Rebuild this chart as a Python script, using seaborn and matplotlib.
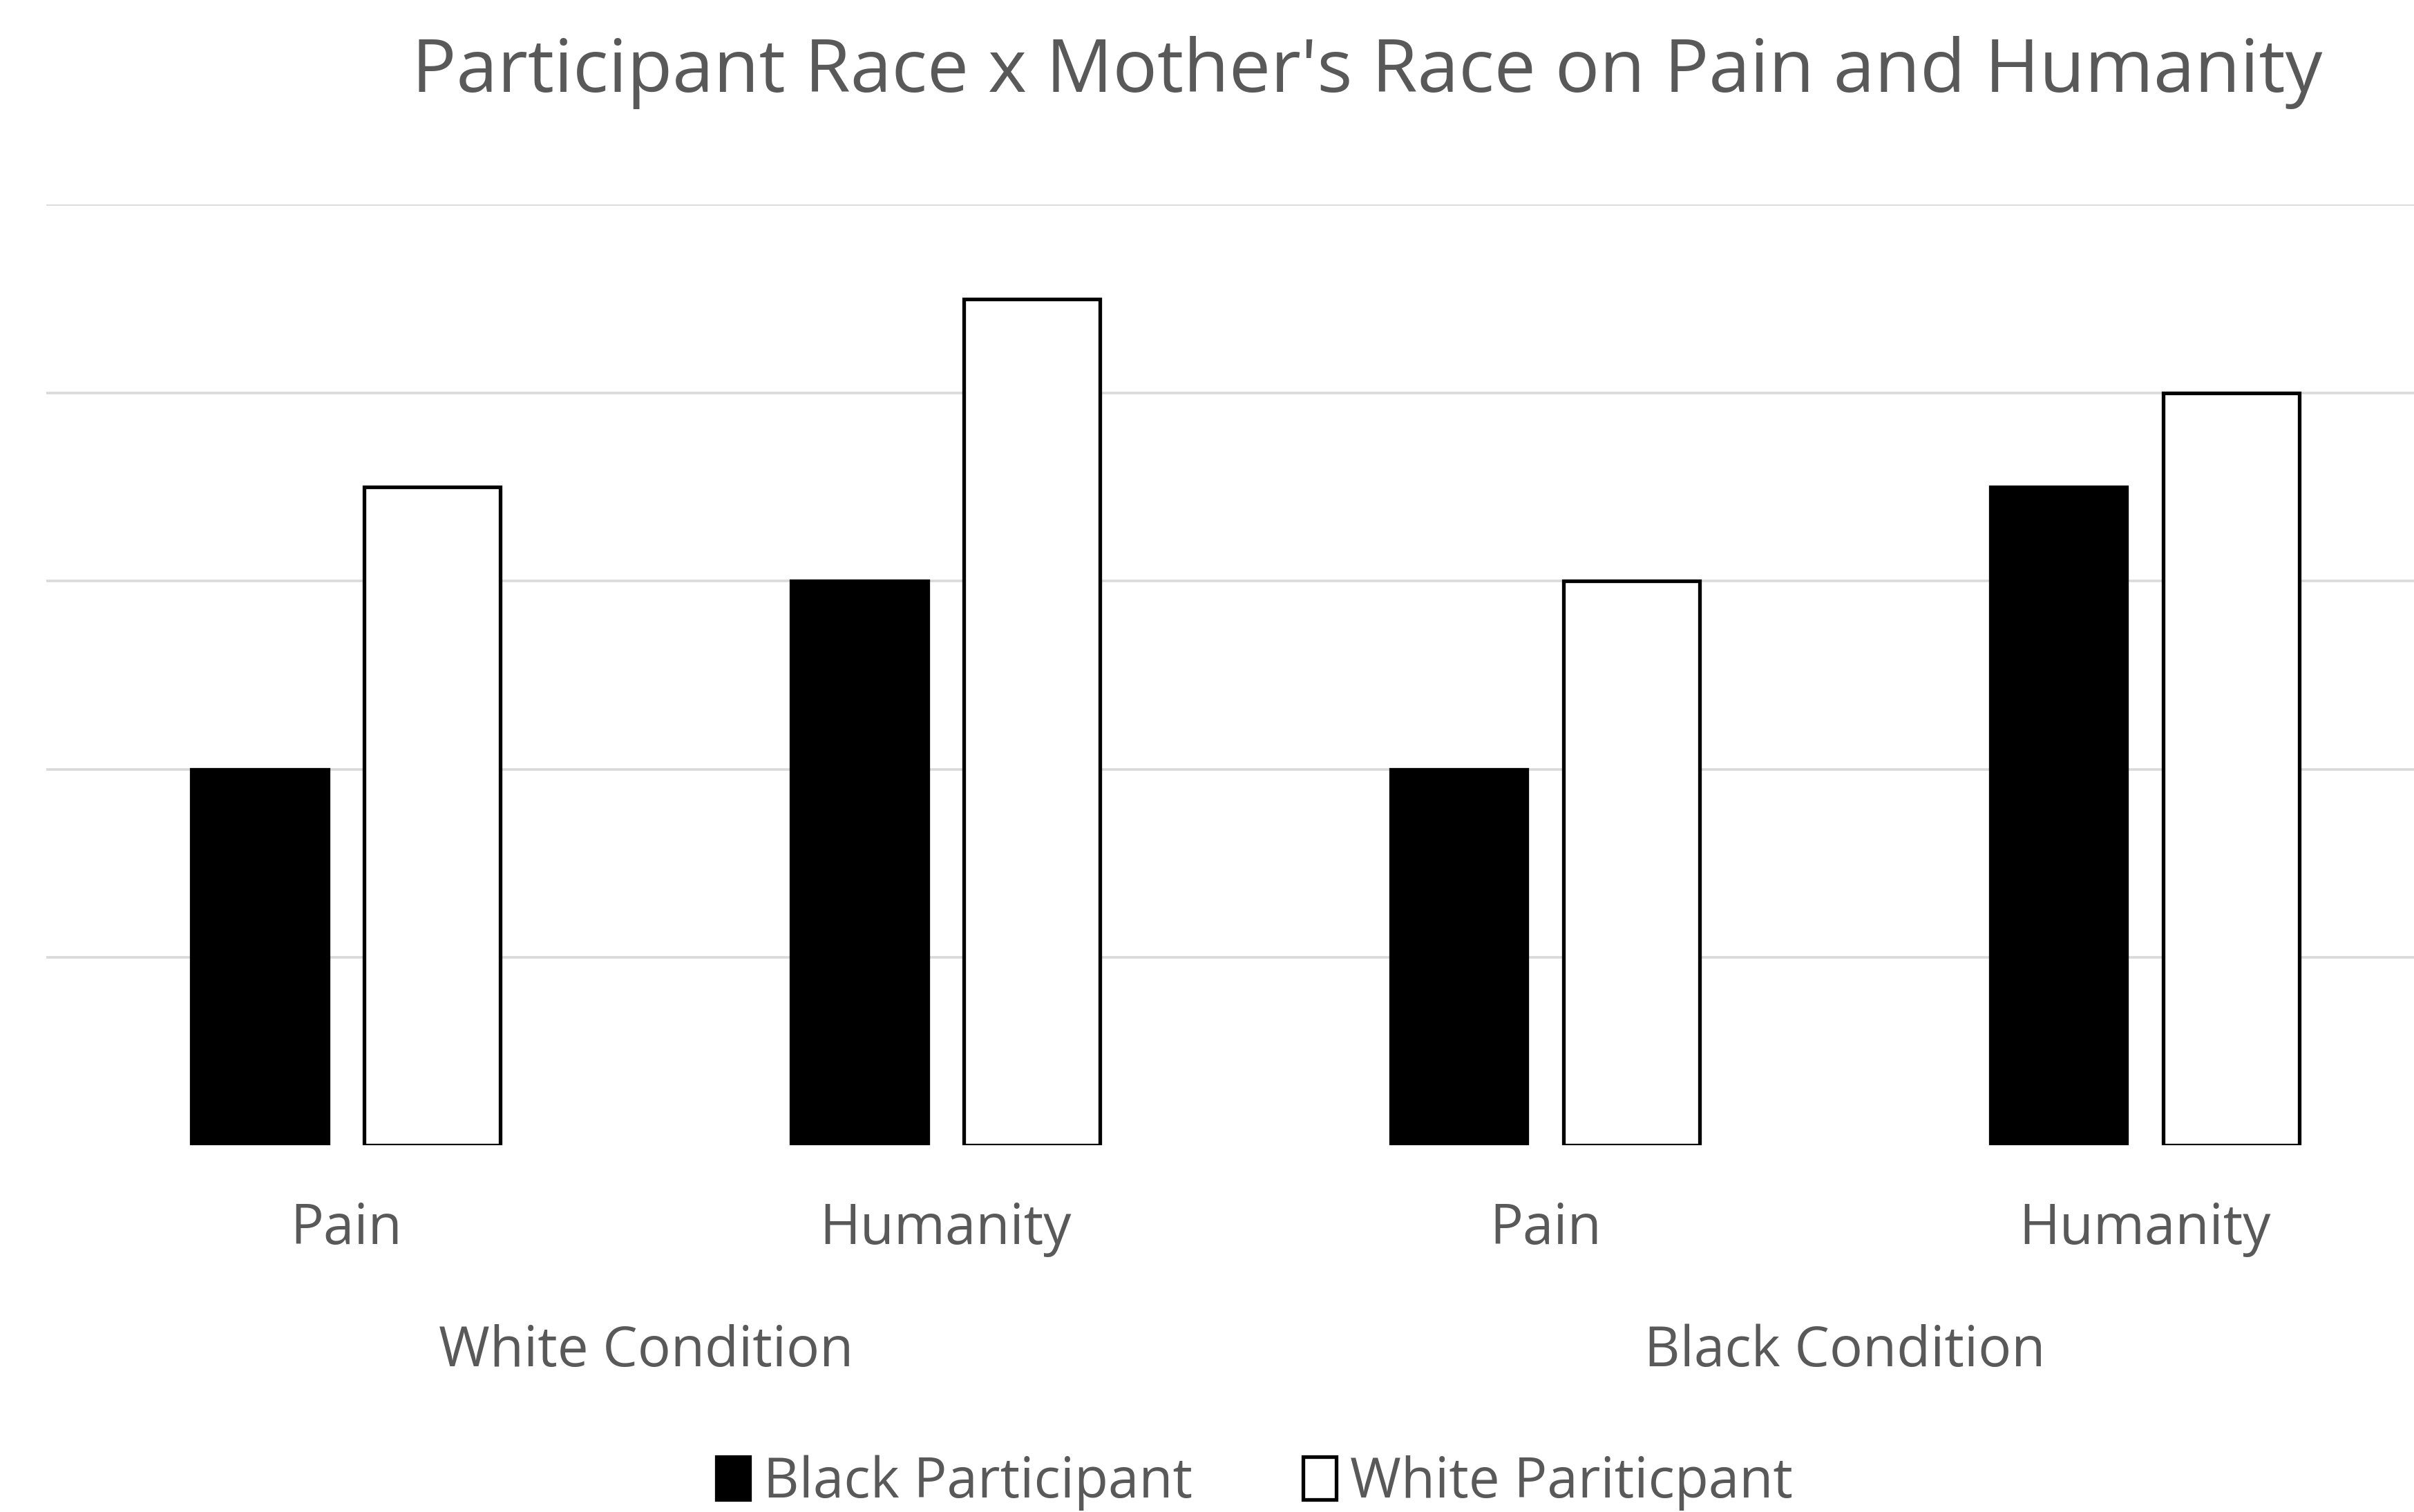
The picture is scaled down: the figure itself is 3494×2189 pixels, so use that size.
import matplotlib
matplotlib.use("Agg")
import matplotlib.pyplot as plt
import matplotlib.transforms as mtransforms
import seaborn as sns
import pandas as pd

# ---- data ----
conditions = ["White Condition", "White Condition", "Black Condition", "Black Condition"]
measures = ["Pain", "Humanity", "Pain", "Humanity"]
black_participant = [2.0, 3.0, 2.0, 3.5]
white_participant = [3.5, 4.5, 3.0, 4.0]
series_names = ["Black Participant", "White Pariticpant"]
group_labels = ["White Condition", "Black Condition"]
title = "Participant Race x Mother's Race on Pain and Humanity"

keys = [f"{c}|{m}" for c, m in zip(conditions, measures)]
rows = []
for k, v in zip(keys, black_participant):
    rows.append({"key": k, "value": v, "series": series_names[0]})
for k, v in zip(keys, white_participant):
    rows.append({"key": k, "value": v, "series": series_names[1]})
df = pd.DataFrame(rows)

sns.set_theme(style="white")
plt.rcParams["font.family"] = ["Open Sans", "DejaVu Sans"]
TXT = "#595959"
FS = 28.8

W, H, DPI = 3494, 2189, 200
fig = plt.figure(figsize=(W / DPI, H / DPI), dpi=DPI)
fig.patch.set_facecolor("white")

left = 30 / 1568
right_edge = left + 4 * 389.5 / 1568
bottom = 1 - 744 / 982
top = 1 - 133 / 982
ax = fig.add_axes([left, bottom, right_edge - left, top - bottom])

sns.barplot(data=df, x="key", y="value", hue="series", order=keys,
            hue_order=series_names,
            palette={series_names[0]: "black", series_names[1]: "white"},
            edgecolor="black", linewidth=1.9, width=0.575, gap=0.21,
            errorbar=None, ax=ax, zorder=3)

ax.set_xlim(-0.5, 3.5)
ax.set_ylim(0, 5)
ax.set_yticks([1, 2, 3, 4, 5])
ax.set_yticklabels([])
ax.yaxis.grid(True, color="#d9d9d9", linewidth=1.3, zorder=0)
ax.set_axisbelow(True)
for s in ax.spines.values():
    s.set_visible(False)
ax.tick_params(axis="both", length=0)
ax.set_xlabel("")
ax.set_ylabel("")
ax.set_xticks(range(4))
ax.set_xticklabels(measures, fontsize=FS, color=TXT)
ax.tick_params(axis="x", pad=29)

trans = mtransforms.blended_transform_factory(ax.transData, fig.transFigure)
for i, g in enumerate(group_labels):
    ax.text(2 * i + 0.5, 1 - 878 / 982, g, transform=trans, ha="center",
            va="center", fontsize=FS, color=TXT)

fig.text(888 / 1568, 1 - 47 / 982, title, ha="center", va="center",
         fontsize=38.6, color=TXT)

handles, labels = ax.get_legend_handles_labels()
ax.get_legend().remove()
leg = fig.legend(handles, labels, loc="center", bbox_to_anchor=(815 / 1568, 1 - 963 / 982),
                 ncol=2, frameon=False, fontsize=FS, handlelength=0.6,
                 handleheight=0.8, handletextpad=0.25, columnspacing=2.0)
for t in leg.get_texts():
    t.set_color(TXT)

fig.savefig("out.png", dpi=DPI, facecolor="white")
